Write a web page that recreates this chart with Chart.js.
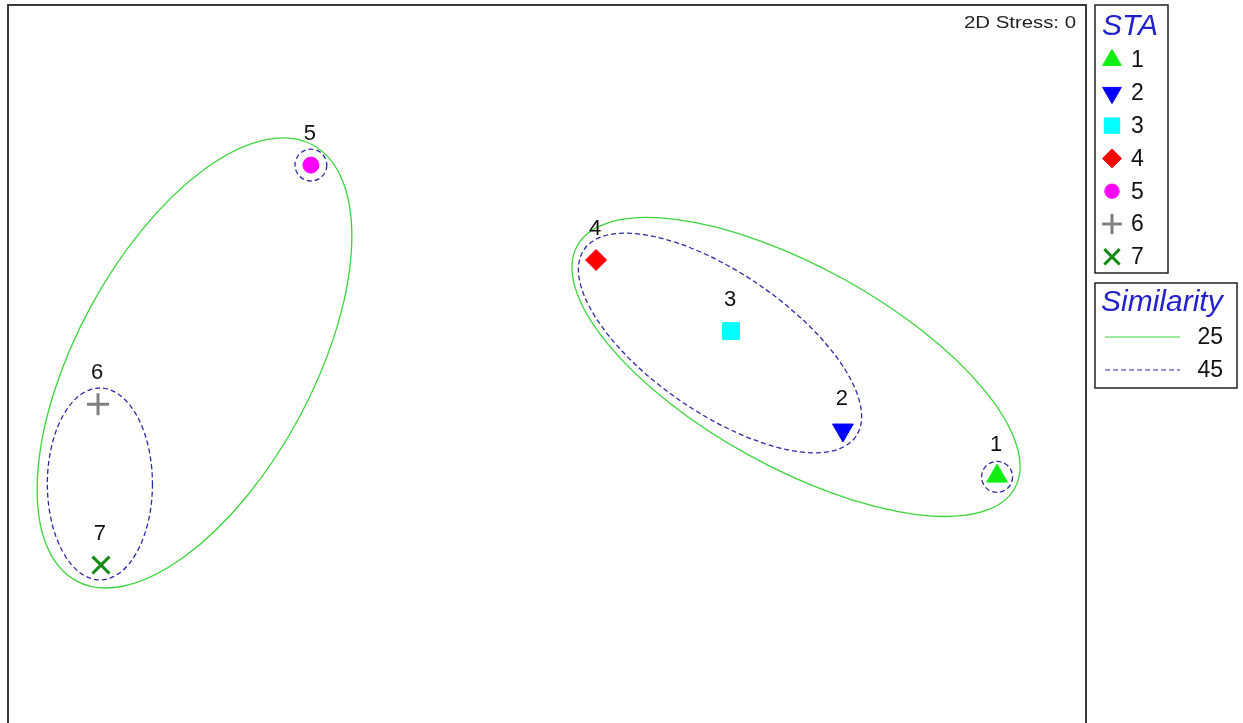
<!DOCTYPE html>
<html>
<head>
<meta charset="utf-8">
<script src="https://cdn.jsdelivr.net/npm/chart.js@4.4.0/dist/chart.umd.min.js"></script>
<style>
  html, body { margin: 0; padding: 0; background: #fff; overflow: hidden; }
  #wrap { width: 1243px; height: 723px; position: relative; }
</style>
</head>
<body>
<div id="wrap"><canvas id="mds"></canvas></div>
<script>
// Stations and their 2D MDS coordinates
const stations = ['1', '2', '3', '4', '5', '6', '7'];
const mdsX = [1.670, 1.098, 0.683, 0.182, -0.876, -1.666, -1.655];
const mdsY = [-0.448, -0.277, 0.090, 0.354, 0.706, -0.181, -0.778];
const stress = 0;

// Similarity contours (cluster outlines), same units as the MDS plot
const simLevels = [25, 45];
const contourLevel = [25, 25, 45, 45, 45, 45];
const contourX = [0.924, -1.308, 0.642, -1.659, 1.670, -0.876];
const contourY = [-0.043, -0.028, 0.046, -0.477, -0.451, 0.706];
const contourRx = [0.928, 0.920, 0.612, 0.195, 0.0575, 0.059];
const contourRy = [0.371, 0.438, 0.260, 0.356, 0.0575, 0.059];
const contourAngle = [-29, 61.5, -34.5, 0, 0, 0];

// Marker styles
const pointStyles = ['triangle', 'triangle', 'rect', 'rectRot', 'circle', 'cross', 'crossRot'];
const pointRotations = [0, 180, 0, 0, 0, 0, 0];
const pointColors = ['#11ee11', '#0000ff', '#00ffff', '#ff0000', '#ff00ff', '#808080', '#158a15'];
const pointRadii = [12, 12, 12, 10.5, 8, 11, 12];
const pointBorders = [1, 1, 1, 1, 1, 3, 3];

const levelStyle = {
    25: { color: '#3cd43c', dash: [] },
    45: { color: '#2a2aa8', dash: [5, 3] }
};

const FONT = '"Liberation Sans", Arial, sans-serif';
const TITLE_BLUE = '#2222cc';

/**
 * Contornos de similitud, dibujados bajo los puntos
 */
const contourPlugin = {
    id: 'contours',
    beforeDatasetsDraw(chart) {
        const { ctx, scales: { x, y } } = chart;
        ctx.save();
        ctx.lineWidth = 1.3;
        for (let i = 0; i < contourX.length; i++) {
            const st = levelStyle[contourLevel[i]];
            const cx = x.getPixelForValue(contourX[i]);
            const cy = y.getPixelForValue(contourY[i]);
            const rx = Math.abs(x.getPixelForValue(contourX[i] + contourRx[i]) - cx);
            const ry = Math.abs(y.getPixelForValue(contourY[i] + contourRy[i]) - cy);
            ctx.strokeStyle = st.color;
            ctx.setLineDash(st.dash);
            ctx.beginPath();
            ctx.ellipse(cx, cy, rx, ry, -contourAngle[i] * Math.PI / 180, 0, Math.PI * 2);
            ctx.stroke();
        }
        ctx.restore();
    }
};

/**
 * Etiquetas de estación sobre cada punto
 */
const labelPlugin = {
    id: 'stationLabels',
    afterDatasetsDraw(chart) {
        const { ctx } = chart;
        const meta = chart.getDatasetMeta(0);
        ctx.save();
        ctx.font = '22px ' + FONT;
        ctx.fillStyle = '#111';
        ctx.textAlign = 'center';
        ctx.textBaseline = 'middle';
        meta.data.forEach((pt, i) => {
            ctx.fillText(stations[i], pt.x - 1, pt.y - 31);
        });
        ctx.restore();
    }
};

/**
 * Marco, texto de stress y leyendas
 */
const framePlugin = {
    id: 'frameLegend',
    afterDraw(chart) {
        const { ctx, chartArea } = chart;
        ctx.save();

        // plot frame (bottom edge falls outside the picture)
        ctx.strokeStyle = '#3a3a3a';
        ctx.lineWidth = 2;
        ctx.strokeRect(chartArea.left, chartArea.top, chartArea.right - chartArea.left, chartArea.bottom - chartArea.top + 20);

        // stress
        ctx.font = '16px ' + FONT;
        ctx.fillStyle = '#222';
        const txt = '2D Stress: ' + stress;
        const w = ctx.measureText(txt).width;
        ctx.save();
        ctx.translate(chartArea.right - 10, 28);
        ctx.scale(112 / w, 1);
        ctx.textAlign = 'right';
        ctx.textBaseline = 'alphabetic';
        ctx.fillText(txt, 0, 0);
        ctx.restore();

        // STA legend
        const lx = chartArea.right + 9;
        ctx.strokeStyle = '#222';
        ctx.lineWidth = 1.5;
        ctx.strokeRect(lx, 5, 73, 268);
        ctx.font = 'italic 30px ' + FONT;
        ctx.fillStyle = TITLE_BLUE;
        ctx.textAlign = 'left';
        ctx.textBaseline = 'alphabetic';
        ctx.fillText('STA', lx + 7, 35);

        ctx.font = '23px ' + FONT;
        ctx.textBaseline = 'middle';
        stations.forEach((s, i) => {
            const yy = 60 + i * 32.8;
            ctx.fillStyle = pointColors[i];
            ctx.strokeStyle = pointColors[i];
            ctx.lineWidth = pointBorders[i];
            Chart.helpers.drawPoint(ctx, {
                pointStyle: pointStyles[i],
                rotation: pointRotations[i],
                radius: pointRadii[i] * 0.9,
                borderWidth: pointBorders[i]
            }, lx + 17, yy);
            ctx.fillStyle = '#111';
            ctx.fillText(s, lx + 36, yy + 1);
        });

        // Similarity legend
        const by = 283;
        ctx.strokeStyle = '#222';
        ctx.lineWidth = 1.5;
        ctx.strokeRect(lx, by, 142, 105);
        ctx.font = 'italic 30px ' + FONT;
        ctx.fillStyle = TITLE_BLUE;
        ctx.textBaseline = 'alphabetic';
        ctx.fillText('Similarity', lx + 6, by + 28);

        ctx.font = '23px ' + FONT;
        ctx.textBaseline = 'middle';
        simLevels.forEach((lv, i) => {
            const yy = by + 54 + i * 33;
            const st = levelStyle[lv];
            ctx.strokeStyle = st.color;
            ctx.lineWidth = 1.2;
            ctx.setLineDash(st.dash);
            ctx.beginPath();
            ctx.moveTo(lx + 10, yy);
            ctx.lineTo(lx + 85, yy);
            ctx.stroke();
            ctx.setLineDash([]);
            ctx.fillStyle = '#111';
            ctx.textAlign = 'right';
            ctx.fillText(String(lv), lx + 128, yy + 1);
            ctx.textAlign = 'left';
        });

        ctx.restore();
    }
};

const ctx = document.getElementById('mds');
new Chart(ctx, {
    type: 'scatter',
    data: {
        datasets: [{
            data: stations.map((s, i) => ({ x: mdsX[i], y: mdsY[i] })),
            pointStyle: pointStyles,
            rotation: pointRotations,
            backgroundColor: pointColors,
            borderColor: pointColors,
            borderWidth: pointBorders,
            pointRadius: pointRadii,
            pointHoverRadius: pointRadii
        }]
    },
    options: {
        responsive: true,
        maintainAspectRatio: false,
        animation: false,
        layout: { autoPadding: false, padding: { left: 8, top: 5, right: 157, bottom: 0 } },
        scales: {
            x: { type: 'linear', min: -2, max: 2, display: false },
            y: { type: 'linear', min: -1.364, max: 1.3, display: false }
        },
        plugins: {
            legend: { display: false },
            tooltip: { enabled: false }
        }
    },
    plugins: [contourPlugin, labelPlugin, framePlugin]
});
</script>
</body>
</html>
